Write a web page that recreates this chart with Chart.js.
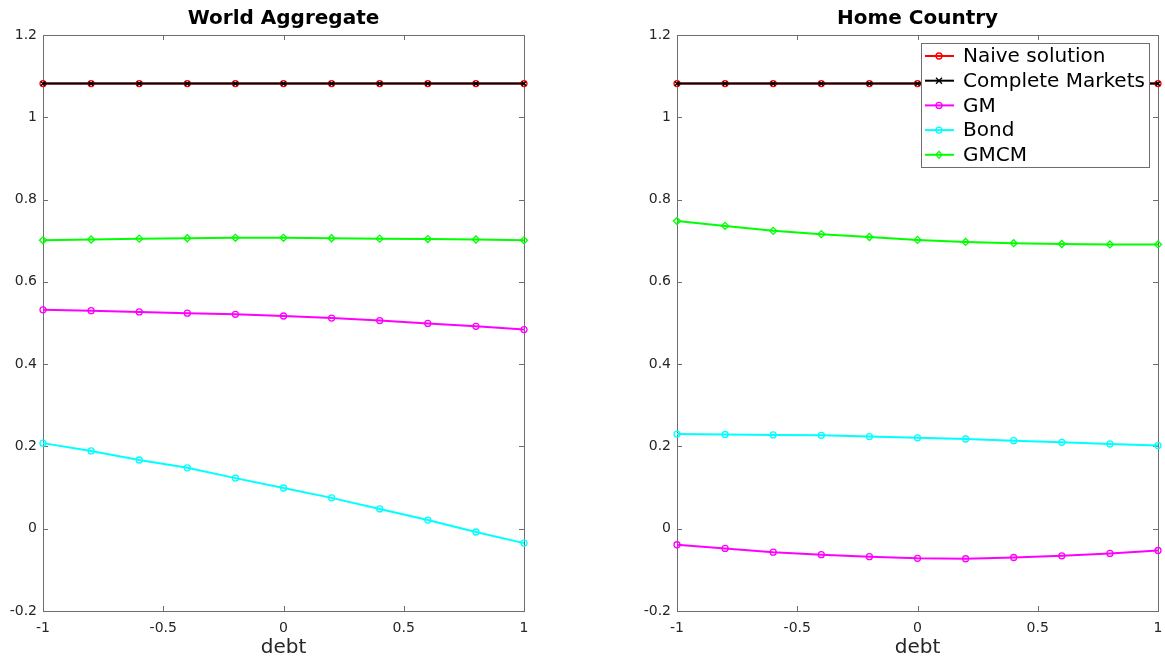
<!DOCTYPE html>
<html>
<head>
<meta charset="utf-8">
<script src="https://cdn.jsdelivr.net/npm/chart.js@4.4.1/dist/chart.umd.min.js"></script>
<style>
  body { margin: 0; background: #fff; width: 1165px; height: 660px; overflow: hidden; }
  .panel { position: absolute; top: 0; height: 660px; }
  #p1 { left: 0; width: 560px; }
  #p2 { left: 620px; width: 545px; }
</style>
</head>
<body>
<div class="panel" id="p1"><canvas id="worldChart"></canvas></div>
<div class="panel" id="p2"><canvas id="homeChart"></canvas></div>
<script>
Chart.defaults.font.family = '"DejaVu Sans", sans-serif';
Chart.defaults.color = '#262626';

const debt = [-1, -0.8, -0.6, -0.4, -0.2, 0, 0.2, 0.4, 0.6, 0.8, 1];
const xTicks = [-1, -0.5, 0, 0.5, 1];
const yTicks = [-0.2, 0, 0.2, 0.4, 0.6, 0.8, 1, 1.2];

// World Aggregate
const worldNaive    = [1.082, 1.082, 1.082, 1.082, 1.082, 1.082, 1.082, 1.082, 1.082, 1.082, 1.082];
const worldComplete = [1.082, 1.082, 1.082, 1.082, 1.082, 1.082, 1.082, 1.082, 1.082, 1.082, 1.082];
const worldGM       = [0.532, 0.530, 0.527, 0.524, 0.521, 0.517, 0.512, 0.506, 0.499, 0.492, 0.484];
const worldBond     = [0.208, 0.189, 0.167, 0.148, 0.123, 0.099, 0.075, 0.048, 0.021, -0.008, -0.035];
const worldGMCM     = [0.701, 0.703, 0.705, 0.706, 0.707, 0.707, 0.706, 0.705, 0.704, 0.703, 0.701];

// Home Country
const homeNaive    = [1.082, 1.082, 1.082, 1.082, 1.082, 1.082, 1.082, 1.082, 1.082, 1.082, 1.082];
const homeComplete = [1.082, 1.082, 1.082, 1.082, 1.082, 1.082, 1.082, 1.082, 1.082, 1.082, 1.082];
const homeGM       = [-0.039, -0.048, -0.057, -0.063, -0.068, -0.072, -0.073, -0.070, -0.066, -0.060, -0.053];
const homeBond     = [0.230, 0.229, 0.228, 0.227, 0.224, 0.221, 0.218, 0.214, 0.210, 0.206, 0.202];
const homeGMCM     = [0.748, 0.736, 0.724, 0.716, 0.709, 0.702, 0.697, 0.694, 0.692, 0.691, 0.691];

const seriesNames  = ['Naive solution', 'Complete Markets', 'GM', 'Bond', 'GMCM'];
const seriesColors = ['#ff0000', '#000000', '#ff00ff', '#00ffff', '#00ff00'];
const seriesMarks  = ['circle', 'crossRot', 'circle', 'circle', 'rectRot'];

const pts = (ys) => debt.map((x, i) => ({ x: x, y: ys[i] }));
const fmt = (v) => String(+Number(v).toFixed(2));

function makeDatasets(lists) {
    return lists.map((ys, i) => ({
        label: seriesNames[i],
        data: pts(ys),
        borderColor: seriesColors[i],
        borderWidth: 2,
        pointStyle: seriesMarks[i],
        pointRadius: seriesMarks[i] === 'rectRot' ? 3.5 : 3,
        pointBorderColor: seriesColors[i],
        pointBackgroundColor: 'rgba(0,0,0,0)',
        pointBorderWidth: 1.3,
        tension: 0,
        clip: false,
        // black line sits over the red one, but red circles stay visible
        order: i === 0 ? 1 : 0
    }));
}

// matlab style box with inward ticks on all four sides
const boxTicks = {
    id: 'boxTicks',
    beforeDatasetsDraw(chart) {
        const { ctx, chartArea: ca, scales } = chart;
        ctx.save();
        ctx.strokeStyle = '#6e6e6e';
        ctx.lineWidth = 1;
        ctx.strokeRect(ca.left + 0.5, ca.top + 0.5, ca.right - ca.left, ca.bottom - ca.top);
        ctx.beginPath();
        xTicks.forEach(v => {
            const px = Math.round(scales.x.getPixelForValue(v)) + 0.5;
            ctx.moveTo(px, ca.bottom); ctx.lineTo(px, ca.bottom - 5);
            ctx.moveTo(px, ca.top); ctx.lineTo(px, ca.top + 5);
        });
        yTicks.forEach(v => {
            const py = Math.round(scales.y.getPixelForValue(v)) + 0.5;
            ctx.moveTo(ca.left, py); ctx.lineTo(ca.left + 5, py);
            ctx.moveTo(ca.right, py); ctx.lineTo(ca.right - 5, py);
        });
        ctx.stroke();
        ctx.restore();
    }
};

function drawMark(ctx, style, x, y, r) {
    ctx.beginPath();
    if (style === 'circle') {
        ctx.arc(x, y, r, 0, Math.PI * 2);
    } else if (style === 'crossRot') {
        ctx.moveTo(x - r, y - r); ctx.lineTo(x + r, y + r);
        ctx.moveTo(x + r, y - r); ctx.lineTo(x - r, y + r);
    } else {
        ctx.moveTo(x, y - r - 0.5); ctx.lineTo(x + r, y);
        ctx.lineTo(x, y + r + 0.5); ctx.lineTo(x - r, y); ctx.closePath();
    }
    ctx.stroke();
}

const boxLegend = {
    id: 'boxLegend',
    afterDraw(chart) {
        const { ctx, chartArea: ca } = chart;
        const w = 228, h = 124, rowH = 24.7;
        const left = ca.right - 9 - w, top = ca.top + 8;
        ctx.save();
        ctx.fillStyle = '#fff';
        ctx.fillRect(left, top, w, h);
        ctx.strokeStyle = '#6e6e6e';
        ctx.lineWidth = 1;
        ctx.strokeRect(left + 0.5, top + 0.5, w, h);
        ctx.font = '20px "DejaVu Sans", sans-serif';
        ctx.textBaseline = 'middle';
        seriesNames.forEach((name, i) => {
            const cy = top + 13 + i * rowH;
            ctx.strokeStyle = seriesColors[i];
            ctx.lineWidth = 2;
            ctx.beginPath();
            ctx.moveTo(left + 4, cy); ctx.lineTo(left + 33, cy);
            ctx.stroke();
            ctx.lineWidth = 1.3;
            drawMark(ctx, seriesMarks[i], left + 18, cy, 3);
            ctx.fillStyle = '#000';
            ctx.fillText(name, left + 42, cy + 1);
        });
        ctx.restore();
    }
};

function makeChart(id, title, lists, yWidth, padRight, extra) {
    return new Chart(document.getElementById(id), {
        type: 'line',
        data: { datasets: makeDatasets(lists) },
        options: {
            responsive: true,
            maintainAspectRatio: false,
            animation: false,
            layout: { padding: { top: 0, left: 0, right: padRight, bottom: 0 } },
            plugins: {
                legend: { display: false },
                tooltip: { enabled: false },
                title: {
                    display: true,
                    text: title,
                    fullSize: false,
                    color: '#000',
                    font: { size: 20, weight: 'bold' },
                    padding: { top: 7, bottom: 4 }
                }
            },
            scales: {
                x: {
                    type: 'linear',
                    min: -1, max: 1,
                    afterBuildTicks: (s) => { s.ticks = xTicks.map(v => ({ value: v })); },
                    grid: { display: false, drawTicks: false, tickLength: 0 },
                    border: { display: false },
                    ticks: { font: { size: 14 }, padding: 9, maxRotation: 0, callback: fmt },
                    title: { display: true, text: 'debt', font: { size: 20 }, padding: { top: 0, bottom: 0 } },
                    afterFit: (s) => { s.height = 49; s.paddingLeft = 0; s.paddingRight = 0; }
                },
                y: {
                    type: 'linear',
                    min: -0.2, max: 1.2,
                    afterBuildTicks: (s) => { s.ticks = yTicks.map(v => ({ value: v })); },
                    grid: { display: false, drawTicks: false, tickLength: 0 },
                    border: { display: false },
                    ticks: { font: { size: 14 }, padding: 6, callback: fmt },
                    afterFit: (s) => { s.width = yWidth; s.paddingTop = 0; s.paddingBottom = 0; }
                }
            }
        },
        plugins: [boxTicks].concat(extra)
    });
}

makeChart('worldChart', 'World Aggregate',
    [worldNaive, worldComplete, worldGM, worldBond, worldGMCM], 43, 36, []);
makeChart('homeChart', 'Home Country',
    [homeNaive, homeComplete, homeGM, homeBond, homeGMCM], 57, 7, [boxLegend]);
</script>
</body>
</html>
